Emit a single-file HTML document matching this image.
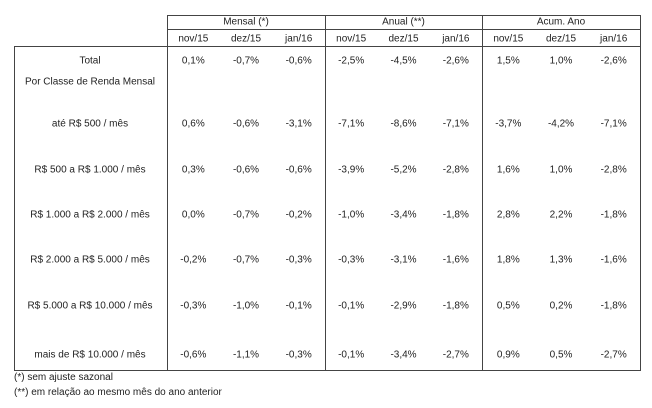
<!DOCTYPE html>
<html><head><meta charset="utf-8"><style>
body{margin:0;width:652px;height:408px;background:#fff;position:relative;overflow:hidden;font-family:"Liberation Sans",sans-serif;font-size:10px;color:#222}
.l{position:absolute;background:#444}
.t{position:absolute;white-space:nowrap;transform:translate(-50%,-50%)}
.f{position:absolute;white-space:nowrap;left:14px}
</style></head><body>
<div id="root"></div>
<div class="f" style="top:372px">(*) sem ajuste sazonal</div>
<div class="f" style="top:387px">(**) em relação ao mesmo mês do ano anterior</div>
<script>
const groups=["Mensal (*)","Anual (**)","Acum. Ano"];
const months=["nov/15","dez/15","jan/16"];
const rowLabels=["Total","Por Classe de Renda Mensal","até R$ 500 / mês","R$ 500 a R$ 1.000 / mês","R$ 1.000 a R$ 2.000 / mês","R$ 2.000 a R$ 5.000 / mês","R$ 5.000 a R$ 10.000 / mês","mais de R$ 10.000 / mês"];
const values=[
["0,1%","-0,7%","-0,6%","-2,5%","-4,5%","-2,6%","1,5%","1,0%","-2,6%"],
null,
["0,6%","-0,6%","-3,1%","-7,1%","-8,6%","-7,1%","-3,7%","-4,2%","-7,1%"],
["0,3%","-0,6%","-0,6%","-3,9%","-5,2%","-2,8%","1,6%","1,0%","-2,8%"],
["0,0%","-0,7%","-0,2%","-1,0%","-3,4%","-1,8%","2,8%","2,2%","-1,8%"],
["-0,2%","-0,7%","-0,3%","-0,3%","-3,1%","-1,6%","1,8%","1,3%","-1,6%"],
["-0,3%","-1,0%","-0,1%","-0,1%","-2,9%","-1,8%","0,5%","0,2%","-1,8%"],
["-0,6%","-1,1%","-0,3%","-0,1%","-3,4%","-2,7%","0,9%","0,5%","-2,7%"]];
const rowY=[61,82,124,170,215,260,306,355];
const root=document.getElementById('root');
const gx=[167,325,482,640];
function line(x,y,w,h,n){const d=document.createElement('div');d.className='l';
d.style.cssText=`left:${x}px;top:${y}px;width:${w}px;height:${h}px`;


root.appendChild(d);}
function text(s,x,y,n){const d=document.createElement('div');d.className='t';d.textContent=s;
d.style.left=x+'px';d.style.top=y+'px';


root.appendChild(d);}
line(167,15,473,1,'header-top-border');
line(167,29,473,1,'header-divider');
line(14,46,626,1,'table-top-border');
line(14,370,626,1,'table-bottom-border');
line(14,46,1,325,'table-left-border');
gx.forEach((x,i)=>line(x,15,1,356,'group-border-'+i));
groups.forEach((g,i)=>{const cx=(gx[i]+gx[i+1])/2;text(g,cx,22,'group-header');
const w=(gx[i+1]-gx[i])/3;
months.forEach((m,j)=>text(m,gx[i]+w*(j+0.5),39,'month-header'));});
rowLabels.forEach((r,i)=>{text(r,90,rowY[i],'row-label');
if(values[i])values[i].forEach((v,k)=>{const g=Math.floor(k/3),w=(gx[g+1]-gx[g])/3;
text(v,gx[g]+w*(k%3+0.5),rowY[i],'cell-value');});});
</script>
</body></html>
